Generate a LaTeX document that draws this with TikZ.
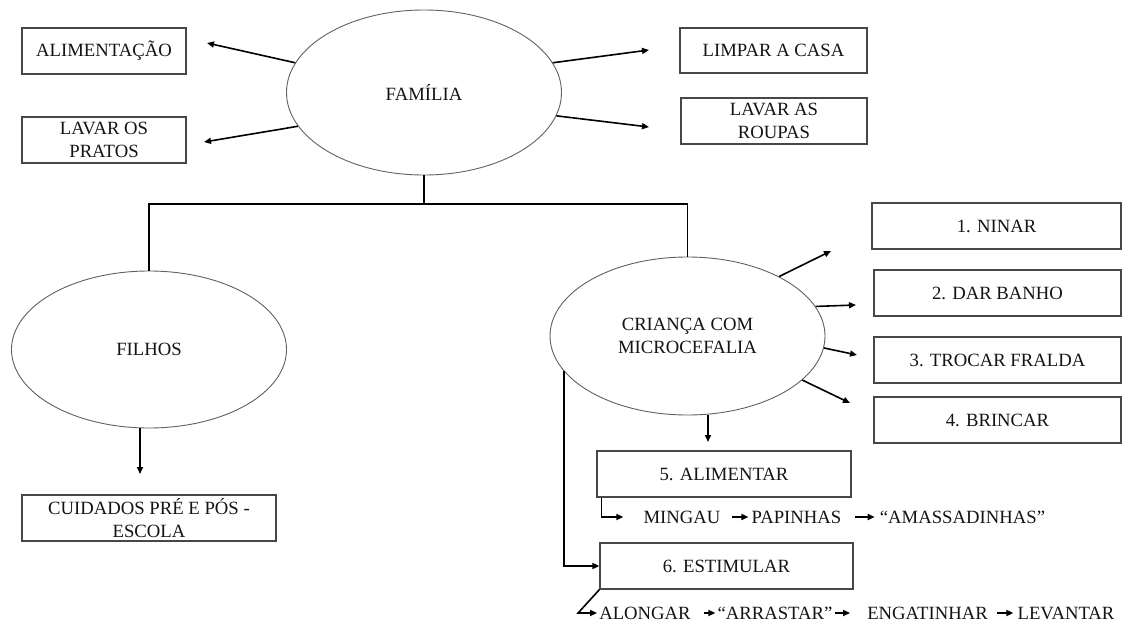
\documentclass[tikz,border=0pt]{standalone}
\usepackage{fontspec}
\setmainfont{Liberation Serif}
\newfontfamily\labelfont{Liberation Serif}
\usetikzlibrary{arrows.meta,shapes.geometric}

\begin{document}
\begin{tikzpicture}[x=1pt,y=-1pt,
  every node/.style={font=\labelfont\fontsize{18.7}{22.5}\selectfont, text=black!92},
  oval/.style={draw=black!62, line width=0.9pt, ellipse, minimum width=275pt,
    inner sep=0pt, align=center},
  tbox/.style={draw=black!72, line width=1.2pt, rectangle, inner sep=0pt,
    minimum height=46pt, align=center},
  lbl/.style={inner sep=0pt, text height=12.5pt, text depth=0pt},
  link/.style={line width=1.6pt, draw=black},
  arr/.style={link, -{Triangle[length=7pt,width=6pt]}},
]
\fill[white] (0,0) rectangle (1125,623);
\useasboundingbox (0,0) rectangle (1125,623);

% central ovals
\node[oval, minimum height=165pt] (fam) at (424,92.5) {FAMÍLIA};
\node[oval, minimum height=158pt] (cri) at (687.5,336) {CRIANÇA COM\\MICROCEFALIA};
\node[oval, minimum height=157pt] (fil) at (149,349.5) {FILHOS};

% household tasks
\node[tbox, minimum width=164pt] (ali) at (104,51) {ALIMENTAÇÃO};
\node[tbox, minimum width=164pt] (pra) at (104,140) {LAVAR OS\\PRATOS};
\node[tbox, minimum width=187pt, minimum height=45pt] (lim) at (773.5,50.5) {LIMPAR A CASA};
\node[tbox, minimum width=186pt] (rou) at (774,121) {LAVAR AS\\ROUPAS};

% care tasks
\node[tbox, minimum width=249pt] (b1) at (996.5,226) {1. NINAR};
\node[tbox, minimum width=247pt] (b2) at (997.5,293) {2. DAR BANHO};
\node[tbox, minimum width=247pt] (b3) at (997.5,360) {3. TROCAR FRALDA};
\node[tbox, minimum width=247pt] (b4) at (997.5,420) {4. BRINCAR};
\node[tbox, minimum width=254pt] (b5) at (724,474) {5. ALIMENTAR};
\node[tbox, minimum width=253pt] (b6) at (726.5,566) {6. ESTIMULAR};
\node[tbox, minimum width=254pt] (cui) at (149,518) {CUIDADOS PRÉ E PÓS -\\ESCOLA};

% sequences
\node[lbl] (ming) at (682,517) {MINGAU};
\node[lbl] (pap) at (796.5,517) {PAPINHAS};
\node[lbl] (ama) at (962.5,517) {“AMASSADINHAS”};
\node[lbl] (alo) at (645,613) {ALONGAR};
\node[lbl] (ars) at (775,613) {“ARRASTAR”};
\node[lbl] (eng) at (927.5,613) {ENGATINHAR};
\node[lbl] (lev) at (1066,613) {LEVANTAR};

% free arrow ends
\coordinate (e1) at (207,43);
\coordinate (e2) at (204,142);
\coordinate (e3) at (649,50);
\coordinate (e4) at (649,127);
\coordinate (n1) at (831,251);
\coordinate (n2) at (856,305);
\coordinate (n3) at (857,355);
\coordinate (n4) at (850,403);
\coordinate (n5) at (708,442);
\coordinate (f1) at (140,474);
\coordinate (bar) at (0,204);

% arrows around FAMÍLIA
\draw[arr] (fam.167) -- (e1);
\draw[arr] (fam.195) -- (e2);
\draw[arr] (fam.13) -- (e3);
\draw[arr] (fam.350) -- (e4);

% tree connector
\draw[link] (fam.south) -- (fam.south |- bar);
\draw[link] (fil.north) |- (cri.north |- bar) -- (cri.north);

% arrows around the child
\draw[arr] (cri.33) -- (n1);
\draw[arr] (cri.13) -- (n2);
\draw[arr] (cri.355) -- (n3);
\draw[arr] (cri.339) -- (n4);
\draw[arr] (cri.south -| n5) -- (n5);
\draw[arr] (cri.196) |- (b6.west);

% children
\draw[arr] (fil.south -| f1) -- (f1);

% feeding steps
\draw[arr] ([xshift=5pt]b5.south west) |- ([xshift=-20pt]ming.west);
\draw[arr] ([xshift=11pt]ming.east) -- ([xshift=-3pt]pap.west);
\draw[arr] ([xshift=13pt]pap.east) -- ([xshift=-5pt]ama.west);

% stimulation steps
\draw[arr] (b6.south west) -- ([xshift=-21pt]alo.west) -- ([xshift=-2pt]alo.west);
\draw[arr] ([xshift=13pt]alo.east) -- ([xshift=-2pt]ars.west);
\draw[arr] ([xshift=2pt]ars.east) -- ([xshift=-17pt]eng.west);
\draw[arr] ([xshift=9pt]eng.east) -- ([xshift=-4pt]lev.west);
\end{tikzpicture}
\end{document}
